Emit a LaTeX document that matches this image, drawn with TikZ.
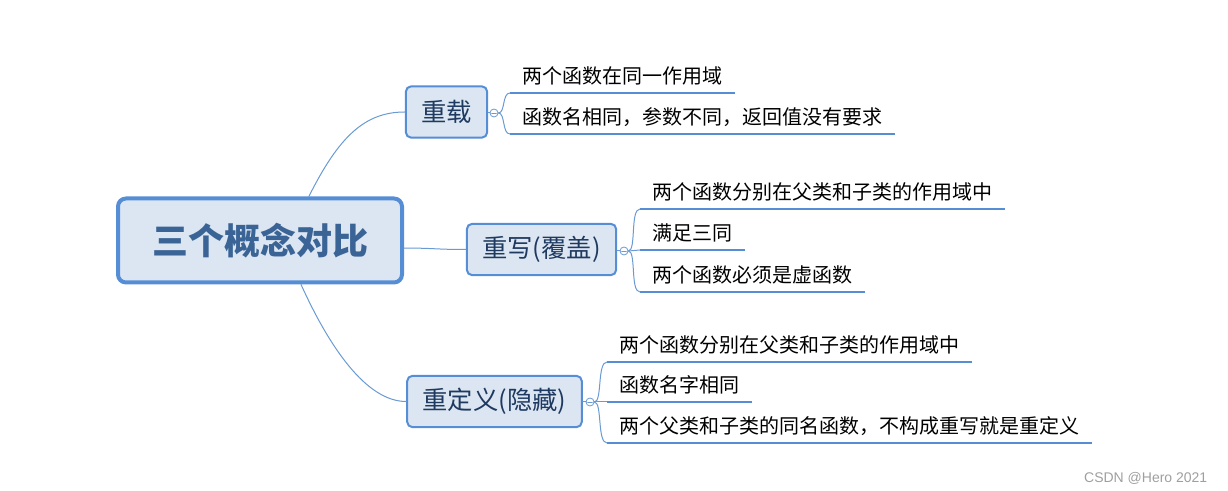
\documentclass[tikz,border=0pt]{standalone}
\usepackage{fontspec}
\setmainfont{Noto Sans CJK SC}
\newfontfamily\wmfont{Liberation Sans}
\definecolor{boxfill}{HTML}{DCE6F2}
\definecolor{boxline}{HTML}{558ED5}
\definecolor{linkblue}{HTML}{6A9AD4}
\definecolor{subtext}{HTML}{1F3A60}
\definecolor{roottext}{HTML}{3B6496}

\begin{document}
\begin{tikzpicture}[x=0.75pt,y=-0.75pt,line cap=round,line join=round,
  rootbox/.style={draw=boxline,fill=boxfill,line width=3pt,rounded corners=6pt,minimum width=213pt,minimum height=63pt,inner sep=0pt,text=roottext,font=\fontsize{27}{32}\selectfont\bfseries},
  subbox/.style={draw=boxline,fill=boxfill,line width=1.5pt,rounded corners=4pt,minimum height=38.5pt,inner sep=0pt,text=subtext,font=\fontsize{19}{23}\selectfont},
  leaf/.style={anchor=south west,inner xsep=9pt,inner ysep=3pt,text height=13pt,text depth=4pt,font=\fontsize{15}{18}\selectfont},
  uline/.style={draw=boxline,line width=2.2pt,line cap=butt},
  link/.style={draw=linkblue,line width=0.75pt},
  fold/.style={circle,draw=linkblue,fill=white,line width=0.6pt,minimum size=6pt,inner sep=0pt,
    path picture={\draw[linkblue,line width=0.5pt] ([xshift=-1.8pt]path picture bounding box.center) -- ([xshift=1.8pt]path picture bounding box.center);}}]
\useasboundingbox (0,0) rectangle (1228,491);
% main topics
\node[rootbox] (root) at (260,240.5) {三个概念对比};
\node[subbox,minimum width=61pt] (load) at (446.5,112) {重载};
\node[subbox,minimum width=112pt] (over) at (541.5,249.5) {重写(覆盖)};
\node[subbox,minimum width=131pt] (hide) at (494.5,401.5) {重定义(隐藏)};
\draw[link] (root.42) .. controls +(30,-60) and +(-40,0) .. (load.west);
\draw[link] (root.-3) .. controls +(30,0) and +(-30,0) .. (over.west);
\draw[link] (root.-47) .. controls +(28,62) and +(-40,0) .. (hide.west);
% overload
\node[fold] (loadc) at (494,113) {};
\node[leaf] (load1) at (510,93) {两个函数在同一作用域};
\node[leaf] (load2) at (510,134) {函数名相同，参数不同，返回值没有要求};
\draw[link] (load.east |- loadc) -- (loadc.west);
\draw[link] (loadc.east) .. controls +(7,0) and +(-8,0) .. (load1.south west);
\draw[link] (loadc.east) .. controls +(7,0) and +(-8,0) .. (load2.south west);
\draw[uline] (load1.south west) -- (load1.south east);
\draw[uline] (load2.south west) -- (load2.south east);
% override
\node[fold] (overc) at (624,251) {};
\node[leaf] (over1) at (640,209) {两个函数分别在父类和子类的作用域中};
\node[leaf] (over2) at (640,250) {满足三同};
\node[leaf] (over3) at (640,292) {两个函数必须是虚函数};
\draw[link] (over.east |- overc) -- (overc.west);
\draw[link] (overc.east) .. controls +(8,0) and +(-10,0) .. (over1.south west);
\draw[link] (overc.east) -- (over2.south west);
\draw[link] (overc.east) .. controls +(8,0) and +(-10,0) .. (over3.south west);
\draw[uline] (over1.south west) -- (over1.south east);
\draw[uline] (over2.south west) -- (over2.south east);
\draw[uline] (over3.south west) -- (over3.south east);
% redefine
\node[fold] (hidec) at (590,402) {};
\node[leaf] (hide1) at (607,362) {两个函数分别在父类和子类的作用域中};
\node[leaf] (hide2) at (607,402) {函数名字相同};
\node[leaf] (hide3) at (607,443) {两个父类和子类的同名函数，不构成重写就是重定义};
\draw[link] (hide.east |- hidec) -- (hidec.west);
\draw[link] (hidec.east) .. controls +(8,0) and +(-10,0) .. (hide1.south west);
\draw[link] (hidec.east) -- (hide2.south west);
\draw[link] (hidec.east) .. controls +(8,0) and +(-10,0) .. (hide3.south west);
\draw[uline] (hide1.south west) -- (hide1.south east);
\draw[uline] (hide2.south west) -- (hide2.south east);
\draw[uline] (hide3.south west) -- (hide3.south east);
\node[anchor=east,text=gray!75,font=\wmfont\fontsize{10.5}{12}\selectfont] (mark) at (1212,478) {CSDN @Hero 2021};
\end{tikzpicture}
\end{document}
